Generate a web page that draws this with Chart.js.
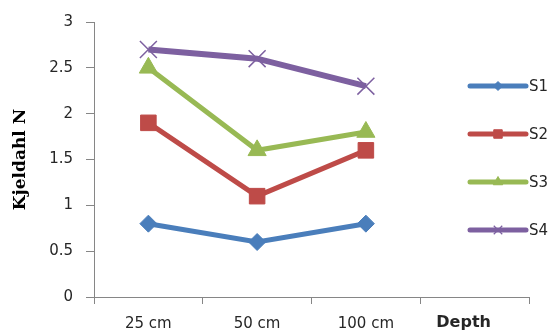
<!DOCTYPE html>
<html>
<head>
<meta charset="utf-8">
<script src="https://cdn.jsdelivr.net/npm/chart.js@4/dist/chart.umd.min.js"></script>
<style>
  html, body { margin: 0; padding: 0; background: #ffffff; }
  #wrap { width: 550px; height: 335px; }
</style>
</head>
<body>
<div id="wrap"><canvas id="chart" width="550" height="335"></canvas></div>
<script>
// Kjeldahl N by sampling depth for four sites
const depths = ['25 cm', '50 cm', '100 cm', ''];
const s1 = [0.8, 0.6, 0.8, null];
const s2 = [1.9, 1.1, 1.6, null];
const s3 = [2.5, 1.6, 1.8, null];
const s4 = [2.7, 2.6, 2.3, null];
const seriesNames = ['S1', 'S2', 'S3', 'S4'];
const yTicks = [0, 0.5, 1, 1.5, 2, 2.5, 3];
const xAxisName = 'Depth';
const yAxisName = 'Kjeldahl N';

const AXIS = '#868686';
const TEXT = '#262626';

const styles = [
  { color: '#4A7EBB', point: 'rectRot',  r: 8.5, lw: 5, legendR: 4.5 },
  { color: '#BE4B48', point: 'rect',     r: 11,  lw: 5, legendR: 6 },
  { color: '#98B954', point: 'triangle', r: 10.5, lw: 5, legendR: 5.5 },
  { color: '#7D60A0', point: 'crossRot', r: 12,  lw: 6, legendR: 6 }
];

const values = [s1, s2, s3, s4];
const datasets = values.map((v, i) => ({
  label: seriesNames[i],
  data: v,
  borderColor: styles[i].color,
  backgroundColor: styles[i].color,
  borderWidth: styles[i].lw,
  pointStyle: styles[i].point,
  pointRadius: styles[i].r,
  pointHoverRadius: styles[i].r,
  pointBorderWidth: styles[i].point === 'crossRot' ? 1.5 : 1,
  pointBorderColor: styles[i].color,
  pointBackgroundColor: styles[i].color,
  tension: 0,
  spanGaps: false
}));

// Series key drawn on the right, over the empty fourth category
const sideLegend = {
  id: 'sideLegend',
  afterDatasetsDraw(chart) {
    const { ctx, chartArea } = chart;
    const x0 = chartArea.right - 59;
    const x1 = chartArea.right - 3;
    ctx.save();
    chart.data.datasets.forEach((ds, i) => {
      const y = chartArea.top + 64 + i * 48;
      ctx.strokeStyle = ds.borderColor;
      ctx.lineWidth = 5;
      ctx.lineCap = 'round';
      ctx.beginPath();
      ctx.moveTo(x0, y);
      ctx.lineTo(x1, y);
      ctx.stroke();
      ctx.fillStyle = ds.backgroundColor;
      ctx.strokeStyle = ds.borderColor;
      ctx.lineWidth = ds.pointStyle === 'crossRot' ? 1.2 : 1;
      ctx.lineCap = 'butt';
      Chart.helpers.drawPoint(ctx, {
        pointStyle: ds.pointStyle,
        radius: styles[i].legendR,
        rotation: 0,
        borderWidth: 1
      }, (x0 + x1) / 2, y);
      ctx.fillStyle = TEXT;
      ctx.font = '15px "DejaVu Sans"';
      ctx.textAlign = 'left';
      ctx.textBaseline = 'middle';
      ctx.fillText(ds.label, x1 + 3, y + 1);
    });
    ctx.restore();
  }
};

// Axis name written at the far end of the category row
const depthTitle = {
  id: 'depthTitle',
  afterDraw(chart) {
    const xs = chart.scales.x;
    const { ctx } = chart;
    ctx.save();
    ctx.fillStyle = TEXT;
    ctx.font = 'bold 16px "DejaVu Sans"';
    ctx.textAlign = 'center';
    ctx.textBaseline = 'alphabetic';
    ctx.fillText(xAxisName, xs.getPixelForValue(3) - 11, xs.top + 30);
    ctx.restore();
  }
};

new Chart(document.getElementById('chart'), {
  type: 'line',
  data: { labels: depths, datasets },
  plugins: [sideLegend, depthTitle],
  options: {
    responsive: false,
    animation: false,
    devicePixelRatio: 1,
    layout: { padding: { left: 0, right: 21, top: 21, bottom: 0 } },
    plugins: {
      legend: { display: false },
      tooltip: { enabled: false }
    },
    scales: {
      x: {
        type: 'category',
        offset: true,
        border: { color: AXIS, width: 1 },
        grid: { drawOnChartArea: false, color: AXIS, tickLength: 7, offset: true },
        ticks: {
          padding: 11,
          color: TEXT,
          font: { family: 'DejaVu Sans', size: 15 },
          maxRotation: 0,
          autoSkip: false
        },
        afterFit(scale) { scale.height = 38; }
      },
      y: {
        min: 0,
        max: 3,
        afterBuildTicks(scale) { scale.ticks = yTicks.map(v => ({ value: v })); },
        border: { color: AXIS, width: 1 },
        grid: { drawOnChartArea: false, color: AXIS, tickLength: 8 },
        ticks: {
          padding: 13,
          color: TEXT,
          font: { family: 'DejaVu Sans', size: 15 },
          callback: v => String(v)
        },
        title: {
          display: true,
          text: yAxisName,
          color: '#000000',
          font: { family: 'DejaVu Serif', weight: 'bold', size: 17 },
          padding: { top: 10, bottom: 0 }
        },
        afterFit(scale) { scale.width = 94; }
      }
    }
  }
});
</script>
</body>
</html>
